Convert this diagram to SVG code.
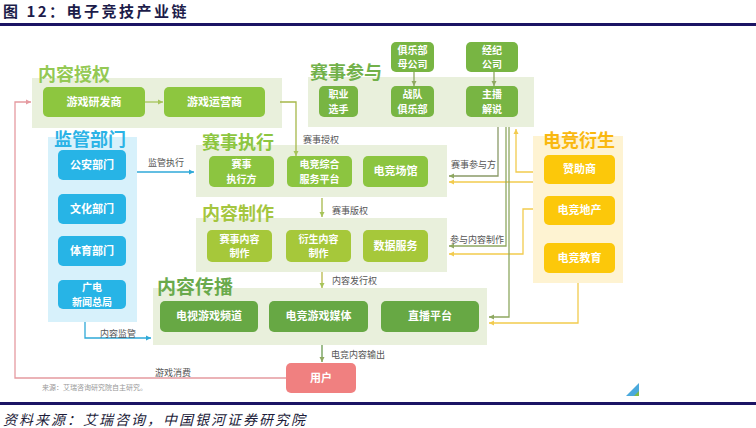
<svg xmlns="http://www.w3.org/2000/svg" width="756" height="428" viewBox="0 0 756 428">
<defs>
<style>
text{font-family:"Noto Sans CJK SC","Noto Sans",sans-serif}
.title{font-size:15px;font-weight:bold;fill:#1c1c4a;letter-spacing:2.5px}
.foot{font-size:14px;font-style:italic;fill:#1c1c3a;letter-spacing:2px}
.sec{font-size:18px;font-weight:bold}
.bt{font-size:11px;font-weight:bold;fill:#fff;text-anchor:middle}
.b2{font-size:10px;font-weight:bold;fill:#fff;text-anchor:middle}
.lbl{font-size:9px;fill:#555}
.src{font-size:7px;fill:#999}
.pg{fill:#e9f0dc}
.pc{fill:#d7f1fb}
.py{fill:#fef3d2}
.c{fill:none;stroke-width:1.3}
</style>
<marker id="ag" markerWidth="6" markerHeight="6" refX="5" refY="3" orient="auto" markerUnits="userSpaceOnUse"><path d="M0,0.5 L5,3 L0,5.5 z" fill="#8ea860"/></marker>
<marker id="al" markerWidth="6" markerHeight="6" refX="5" refY="3" orient="auto" markerUnits="userSpaceOnUse"><path d="M0,0.5 L5,3 L0,5.5 z" fill="#a6c45a"/></marker>
<marker id="ay" markerWidth="6" markerHeight="6" refX="5" refY="3" orient="auto" markerUnits="userSpaceOnUse"><path d="M0,0.5 L5,3 L0,5.5 z" fill="#f2cb4e"/></marker>
<marker id="ac" markerWidth="6" markerHeight="6" refX="5" refY="3" orient="auto" markerUnits="userSpaceOnUse"><path d="M0,0.5 L5,3 L0,5.5 z" fill="#2fa9d8"/></marker>
<marker id="ap" markerWidth="6" markerHeight="6" refX="5" refY="3" orient="auto" markerUnits="userSpaceOnUse"><path d="M0,0.5 L5,3 L0,5.5 z" fill="#e59aa0"/></marker>
</defs>
<rect width="756" height="428" fill="#fff"/>
<text class="title" x="3" y="17">图 12：电子竞技产业链</text>
<rect x="0" y="23" width="756" height="3" fill="#1b1464"/>
<rect x="0" y="402" width="756" height="3" fill="#1b1464"/>
<text class="foot" x="3" y="425">资料来源：艾瑞咨询，中国银河证券研究院</text>

<!-- panels -->
<g id="panel-neirongshouquan">
<rect class="pg" x="32" y="78" width="250" height="50"/>
<text class="sec" x="38" y="81" fill="#94c954">内容授权</text>
</g>
<g id="panel-saishicanyu">
<rect class="pg" x="308" y="77" width="226" height="50"/>
<text class="sec" x="310" y="79" fill="#72b14a">赛事参与</text>
</g>
<g id="panel-jianguan">
<rect class="pc" x="48" y="137" width="89" height="185"/>
<text class="sec" x="54" y="146" fill="#2bb3e6">监管部门</text>
</g>
<g id="panel-saishizhixing">
<rect class="pg" x="196" y="145" width="251" height="52"/>
<text class="sec" x="202" y="149" fill="#8dc63f">赛事执行</text>
</g>
<g id="panel-neirongzhizuo">
<rect class="pg" x="196" y="218" width="251" height="54"/>
<text class="sec" x="202" y="220" fill="#a5c63f">内容制作</text>
</g>
<g id="panel-neirongchuanbo">
<rect class="pg" x="153" y="288" width="334" height="57"/>
<text class="sec" x="157" y="294" fill="#6aaa4c" style="font-size:19px">内容传播</text>
</g>
<g id="panel-dianjingyansheng">
<rect class="py" x="533" y="136" width="90" height="147"/>
<text class="sec" x="543" y="147" fill="#f9b80f">电竞衍生</text>
</g>

<!-- connectors -->
<g id="connectors">
<line class="c" x1="145" y1="102" x2="163" y2="102" stroke="#a6c45a" marker-end="url(#al)"/>
<polyline class="c" points="280,102 296,102 296,156" stroke="#a6b84a" marker-end="url(#al)"/>
<line class="c" x1="414" y1="72" x2="414" y2="86" stroke="#8ea860" marker-end="url(#ag)"/>
<line class="c" x1="494" y1="72" x2="494" y2="86" stroke="#8ea860" marker-end="url(#ag)"/>
<line class="c" x1="137" y1="172" x2="194" y2="172" stroke="#2fa9d8" marker-end="url(#ac)"/>
<line class="c" x1="322" y1="198" x2="322" y2="217" stroke="#a6b84a" marker-end="url(#al)"/>
<line class="c" x1="322" y1="272" x2="322" y2="288" stroke="#b8b84a" marker-end="url(#al)"/>
<line class="c" x1="322" y1="345" x2="322" y2="362" stroke="#6a9a50" marker-end="url(#ag)"/>
<polyline class="c" points="286,378 15,378 15,102 31,102" stroke="#e59aa0" marker-end="url(#ap)"/>
<polyline class="c" points="85,322 85,338 151,338" stroke="#2fa9d8" marker-end="url(#ac)"/>
<polyline class="c" points="498,127 498,176 449,176" stroke="#8a9a68" marker-end="url(#ag)"/>
<polyline class="c" points="533,172 516,172 516,129" stroke="#f2cb4e" marker-end="url(#ay)"/>
<polyline class="c" points="533,182 449,182" stroke="#f2cb4e" marker-end="url(#ay)"/>
<polyline class="c" points="506,127 506,246 449,246" stroke="#8ea860" marker-end="url(#ag)"/>
<polyline class="c" points="533,209 523,209 523,254 449,254" stroke="#f2cb4e" marker-end="url(#ay)"/>
<polyline class="c" points="509,127 509,317 489,317" stroke="#8ea860" marker-end="url(#ag)"/>
<polyline class="c" points="578,283 578,323 489,323" stroke="#f2cb4e" marker-end="url(#ay)"/>
<text class="lbl" x="303" y="143">赛事授权</text>
<text class="lbl" x="148" y="166">监管执行</text>
<text class="lbl" x="332" y="214">赛事版权</text>
<text class="lbl" x="332" y="284">内容发行权</text>
<text class="lbl" x="331" y="358">电竞内容输出</text>
<text class="lbl" x="155" y="376">游戏消费</text>
<text class="lbl" x="100" y="337">内容监管</text>
<text class="lbl" x="451" y="168">赛事参与方</text>
<text class="lbl" x="450" y="243">参与内容制作</text>
</g>

<!-- nodes -->
<g id="youxiyanfashang"><rect x="43" y="87" width="102" height="30" rx="5" fill="#8dc63f"/><text class="bt" x="94" y="106">游戏研发商</text></g>
<g id="youxiyunyingshang"><rect x="164" y="87" width="101" height="30" rx="5" fill="#8dc63f"/><text class="bt" x="214.5" y="106">游戏运营商</text></g>

<g id="zhiyexuanshou"><rect x="319" y="86" width="39" height="31" rx="5" fill="#78b543"/><text class="b2"><tspan x="338.5" y="98">职业</tspan><tspan x="338.5" y="112.6">选手</tspan></text></g>
<g id="zhanduijulebu"><rect x="391" y="86" width="43" height="31" rx="5" fill="#78b543"/><text class="b2"><tspan x="412.5" y="98">战队</tspan><tspan x="412.5" y="112.6">俱乐部</tspan></text></g>
<g id="zhubojieshuo"><rect x="466" y="86" width="52" height="31" rx="5" fill="#78b543"/><text class="b2"><tspan x="492" y="98">主播</tspan><tspan x="492" y="112.6">解说</tspan></text></g>
<g id="julebumugongsi"><rect x="391" y="42" width="43" height="30" rx="5" fill="#78b543"/><text class="b2"><tspan x="412.5" y="53.5">俱乐部</tspan><tspan x="412.5" y="68.1">母公司</tspan></text></g>
<g id="jingjigongsi"><rect x="466" y="42" width="52" height="30" rx="5" fill="#78b543"/><text class="b2"><tspan x="492" y="53.5">经纪</tspan><tspan x="492" y="68.1">公司</tspan></text></g>

<g id="gonganbumen"><rect x="58" y="150" width="68" height="30" rx="5" fill="#27b4e6"/><text class="bt" x="92" y="169">公安部门</text></g>
<g id="wenhuabumen"><rect x="58" y="194" width="68" height="30" rx="5" fill="#27b4e6"/><text class="bt" x="92" y="213">文化部门</text></g>
<g id="tiyubumen"><rect x="58" y="236" width="68" height="30" rx="5" fill="#27b4e6"/><text class="bt" x="92" y="255">体育部门</text></g>
<g id="guangdian"><rect x="58" y="280" width="68" height="29" rx="5" fill="#27b4e6"/><text class="b2"><tspan x="92" y="291">广电</tspan><tspan x="92" y="305.6">新闻总局</tspan></text></g>

<g id="saishizhixingfang"><rect x="209" y="156" width="65" height="31" rx="5" fill="#8cc540"/><text class="b2"><tspan x="241.5" y="168">赛事</tspan><tspan x="241.5" y="182.6">执行方</tspan></text></g>
<g id="dianjingzonghe"><rect x="287" y="156" width="65" height="31" rx="5" fill="#8cc540"/><text class="b2"><tspan x="319.5" y="168">电竞综合</tspan><tspan x="319.5" y="182.6">服务平台</tspan></text></g>
<g id="dianjingchangguan"><rect x="363" y="156" width="65" height="31" rx="5" fill="#8cc540"/><text class="bt" x="395.5" y="175">电竞场馆</text></g>

<g id="saishineirong"><rect x="207" y="230" width="65" height="32" rx="5" fill="#a6c83a"/><text class="b2"><tspan x="239.5" y="242.5">赛事内容</tspan><tspan x="239.5" y="257.1">制作</tspan></text></g>
<g id="yanshengneirong"><rect x="286" y="230" width="65" height="32" rx="5" fill="#a6c83a"/><text class="b2"><tspan x="318.5" y="242.5">衍生内容</tspan><tspan x="318.5" y="257.1">制作</tspan></text></g>
<g id="shujufuwu"><rect x="363" y="230" width="65" height="32" rx="5" fill="#a6c83a"/><text class="bt" x="395.5" y="250">数据服务</text></g>

<g id="dianshiyouxipindao"><rect x="160" y="301" width="98" height="31" rx="5" fill="#67a844"/><text class="bt" x="209" y="320">电视游戏频道</text></g>
<g id="dianjingyouximeiti"><rect x="269" y="301" width="99" height="31" rx="5" fill="#67a844"/><text class="bt" x="318.5" y="320">电竞游戏媒体</text></g>
<g id="zhibopingtai"><rect x="381" y="301" width="98" height="31" rx="5" fill="#67a844"/><text class="bt" x="430" y="320">直播平台</text></g>

<g id="zanzhushang"><rect x="544" y="155" width="71" height="29" rx="5" fill="#fcc80a"/><text class="bt" x="579.5" y="173">赞助商</text></g>
<g id="dianjingdichan"><rect x="544" y="196" width="71" height="29" rx="5" fill="#fcc80a"/><text class="bt" x="579.5" y="214">电竞地产</text></g>
<g id="dianjingjiaoyu"><rect x="544" y="243" width="71" height="30" rx="5" fill="#fcc80a"/><text class="bt" x="579.5" y="262">电竞教育</text></g>

<g id="yonghu"><rect x="286" y="363" width="70" height="30" rx="5" fill="#f08080"/><text class="bt" x="321" y="382">用户</text></g>

<text class="src" x="42" y="390">来源：艾瑞咨询研究院自主研究。</text>
<polygon points="626,396 639,383 639,396" fill="#4aa9dc"/>
<polygon points="634,396 639,391 639,396" fill="#7fba4a"/>
</svg>
